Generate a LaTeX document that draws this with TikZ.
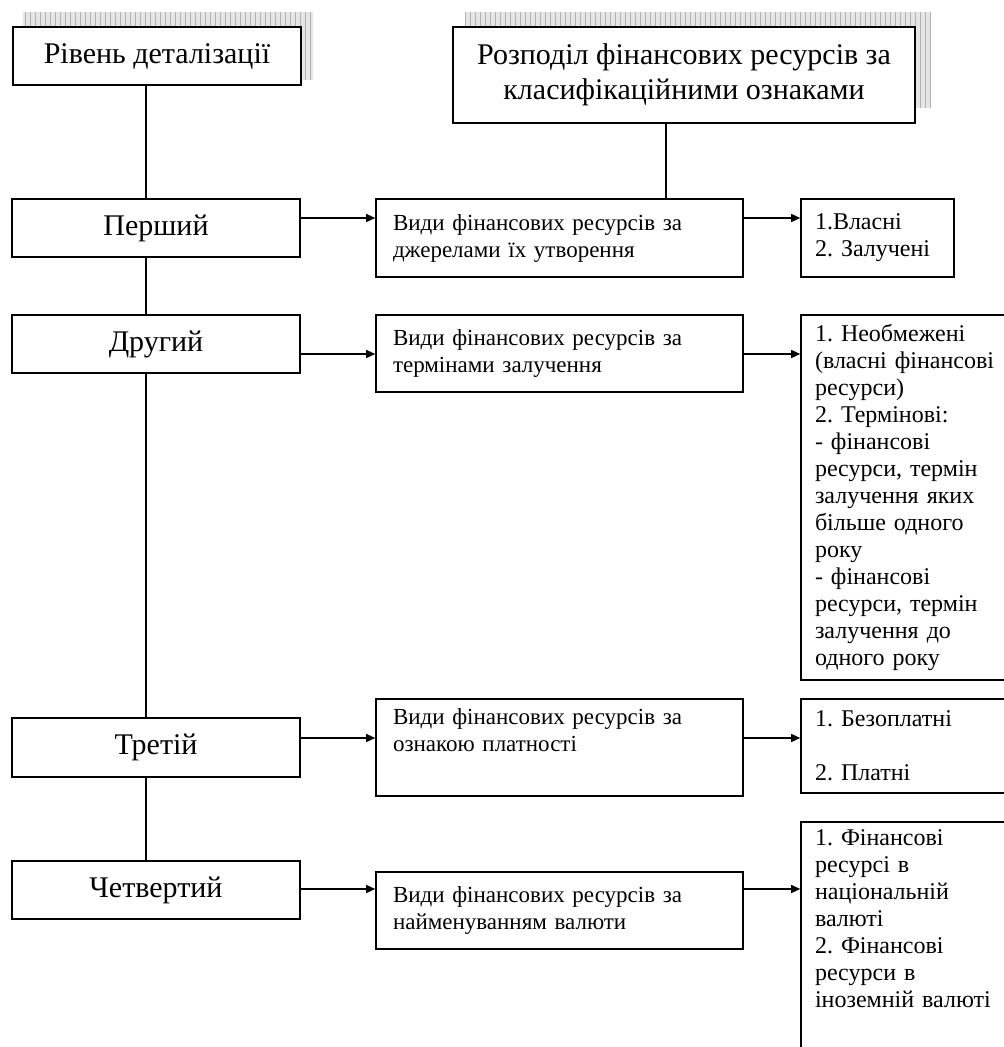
\documentclass[tikz,border=0pt]{standalone}
\usepackage{fontspec}
\setmainfont{Liberation Serif}
\usetikzlibrary{arrows.meta,positioning}

\newcommand{\hdrfont}{\fontsize{30}{35}\selectfont}
\newcommand{\midfont}{\fontsize{23}{27}\selectfont}
\newcommand{\resfont}{\fontsize{24}{27}\selectfont}
\frenchspacing

\begin{document}
\begin{tikzpicture}[x=1pt,y=-1pt]
        \tikzstyle{every node}=[rectangle, draw=black, fill=white, line width=1.6pt, inner sep=0pt, text=black]
        \tikzstyle{lvlbox}=[minimum width=288pt, minimum height=58pt, font=\hdrfont]
        \tikzstyle{srcbox}=[minimum width=367pt, text width=333pt, inner xsep=17pt, align=left, font=\midfont]
        \tikzstyle{resbox}=[minimum width=240pt, text width=212pt, inner xsep=14pt, align=left, font=\resfont]
        \tikzstyle{link}=[black, line width=1.4pt]
        \tikzstyle{arr}=[link, -{Triangle[length=9pt,width=8pt]}]
        \tikzstyle{shadowfill}=[fill=gray!20]
        \tikzstyle{shadowgrid}=[gray!60, line width=0.5pt, step=5]

        \clip (0,0) rectangle (1004,1047);

        % headers
        \coordinate (s1a) at (23,12);  \coordinate (s1b) at (313,80);
        \coordinate (s2a) at (465,12); \coordinate (s2b) at (930,108);
        \fill[shadowfill] (s1a) rectangle (s1b);
        \draw[shadowgrid] (s1a) grid (s1b);
        \fill[shadowfill] (s2a) rectangle (s2b);
        \draw[shadowgrid] (s2a) grid (s2b);

        \node[lvlbox] (hdrlvl) at (157,56) {Рівень деталізації};
        \node[minimum width=462pt, minimum height=96pt, align=center, font=\hdrfont] (hdrdist) at (684,75)
            {Розподіл фінансових ресурсів за\\ класифікаційними ознаками};

        % levels
        \node[lvlbox] (first)  at (156,228)   {Перший};
        \node[lvlbox] (second) at (156,344)   {Другий};
        \node[lvlbox, minimum height=59pt] (third) at (156,747.5) {Третій};
        \node[lvlbox] (fourth) at (156,890)   {Четвертий};

        % kinds of resources
        \node[srcbox, minimum height=78pt] (srcA) at (559.5,238)   {Види фінансових ресурсів за\\ джерелами їх утворення};
        \node[srcbox, minimum height=77pt] (srcB) at (559.5,353.5) {Види фінансових ресурсів за\\ термінами залучення};
        \node[srcbox, minimum height=97pt] (srcC) at (559.5,747.5) {Види фінансових ресурсів за\\ ознакою платності\\ \strut};
        \node[srcbox, minimum height=77pt] (srcD) at (559.5,910.5) {Види фінансових ресурсів за\\ найменуванням валюти};

        % groups
        \node[resbox, minimum width=153pt, text width=125pt, minimum height=78pt] (resA) at (877.5,238) {1.Власні\\ 2. Залучені};
        \node[resbox, minimum height=365pt] (resB) at (921,497.5)
            {1. Необмежені\\ (власні фінансові\\ ресурси)\\ 2. Термінові:\\ - фінансові\\ ресурси, термін\\ залучення яких\\ більше одного\\ року\\ - фінансові\\ ресурси, термін\\ залучення до\\ одного року};
        \node[resbox, minimum height=94pt] (resC) at (921,746) {1. Безоплатні\\ \strut\\ 2. Платні};
        \node[resbox, minimum height=255pt] (resD) at (921,949.5)
            {1. Фінансові\\ ресурсі в\\ національній\\ валюті\\ 2. Фінансові\\ ресурси в\\ іноземній валюті\\ \strut\\ \strut};

        % spine and branch
        \coordinate (spine)  at (146,0);
        \coordinate (branch) at (666,0);
        \draw[link] (spine |- hdrlvl.south) -- (spine |- first.north);
        \draw[link] (spine |- first.south)  -- (spine |- second.north);
        \draw[link] (spine |- second.south) -- (spine |- third.north);
        \draw[link] (spine |- third.south)  -- (spine |- fourth.north);
        \draw[link] (branch |- hdrdist.south) -- (branch |- srcA.north);

        % arrows
        \coordinate (row1) at (0,218);
        \coordinate (row2) at (0,354);
        \coordinate (row3) at (0,738);
        \coordinate (row4) at (0,889);
        \draw[arr] (first.east |- row1)  -- (srcA.west |- row1);
        \draw[arr] (second.east |- row2) -- (srcB.west |- row2);
        \draw[arr] (third.east |- row3)  -- (srcC.west |- row3);
        \draw[arr] (fourth.east |- row4) -- (srcD.west |- row4);
        \draw[arr] (srcA.east |- row1) -- (resA.west |- row1);
        \draw[arr] (srcB.east |- row2) -- (resB.west |- row2);
        \draw[arr] (srcC.east |- row3) -- (resC.west |- row3);
        \draw[arr] (srcD.east |- row4) -- (resD.west |- row4);
\end{tikzpicture}
\end{document}
